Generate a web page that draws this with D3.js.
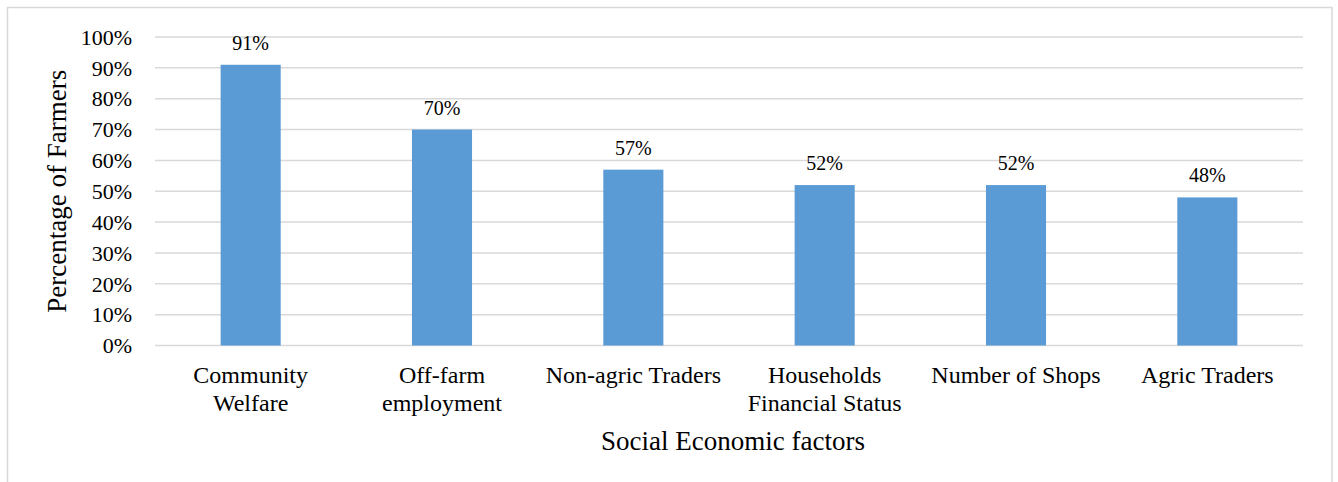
<!DOCTYPE html>
<html>
<head>
<meta charset="utf-8">
<script src="https://cdn.jsdelivr.net/npm/d3@7"></script>
<style>
  html, body { margin: 0; padding: 0; background: #fff; }
  svg { display: block; }
  svg text { font-family: "Liberation Serif", "Times New Roman", serif !important; fill: #000; }
</style>
</head>
<body>
<svg id="chart" width="1338" height="482"></svg>
<script>
const categories = [["Community", "Welfare"], ["Off-farm", "employment"], ["Non-agric Traders"], ["Households", "Financial Status"], ["Number of Shops"], ["Agric Traders"]];
const values = [91, 70, 57, 52, 52, 48];
const yTicks = [0, 10, 20, 30, 40, 50, 60, 70, 80, 90, 100];
const yTitle = "Percentage of Farmers";
const xTitle = "Social Economic factors";

(function () {
const svg = d3.select("#chart");
const font = "Liberation Serif, Times New Roman, serif";

// frame
svg.append("rect").attr("x", 7.5).attr("y", 7.5).attr("width", 1324.5).attr("height", 490)
  .attr("fill", "none").attr("stroke", "#d9d9d9").attr("stroke-width", 1.5);

const pLeft = 155, pRight = 1303, pTop = 37, pBottom = 345.5;
const keys = categories.map((c, i) => i);
const x = d3.scaleBand().domain(keys).range([pLeft, pRight]).paddingInner(0.686).paddingOuter(0.343);
const y = d3.scaleLinear().domain([0, 100]).range([pBottom, pTop]);

// gridlines
svg.append("g").selectAll("line").data(yTicks).join("line")
  .attr("x1", pLeft).attr("x2", pRight)
  .attr("y1", d => y(d)).attr("y2", d => y(d))
  .attr("stroke", "#d9d9d9").attr("stroke-width", 1.5);

// y axis labels
const yAxis = d3.axisLeft(y).tickValues(yTicks).tickFormat(d => d + "%").tickSize(0).tickPadding(0);
const ya = svg.append("g").attr("transform", `translate(132,0)`).call(yAxis)
  .attr("font-family", font).attr("font-size", 22);
ya.select(".domain").remove();
ya.selectAll("text").style("font-size", "22px").attr("fill", "#000").attr("dy", "0.33em");

// bars
svg.append("g").selectAll("rect").data(values).join("rect")
  .attr("x", (d, i) => x(i)).attr("width", x.bandwidth())
  .attr("y", d => y(d)).attr("height", d => y(0) - y(d))
  .attr("fill", "#5b9bd5");

// data labels
svg.append("g").selectAll("text").data(values).join("text")
  .attr("x", (d, i) => x(i) + x.bandwidth() / 2)
  .attr("y", d => y(d) - 15)
  .attr("text-anchor", "middle")
  .style("font-size", "20px")
  .text(d => d + "%");

// category labels
const cat = svg.append("g").selectAll("text").data(categories).join("text")
  .attr("x", (d, i) => x(i) + x.bandwidth() / 2)
  .attr("y", 383)
  .attr("text-anchor", "middle")
  .style("font-size", "24px");
cat.each(function(d, i) {
  const t = d3.select(this);
  d.forEach((line, j) => {
    t.append("tspan").attr("x", x(i) + x.bandwidth() / 2).attr("dy", j === 0 ? 0 : 28).text(line);
  });
});

// axis titles
svg.append("text").attr("x", 733).attr("y", 450).attr("text-anchor", "middle")
  .style("font-size", "27px").text(xTitle);
svg.append("text").attr("transform", `translate(66,${(pTop + pBottom) / 2}) rotate(-90)`)
  .attr("text-anchor", "middle")
  .style("font-size", "27px").text(yTitle);
})();
</script>
</body>
</html>
